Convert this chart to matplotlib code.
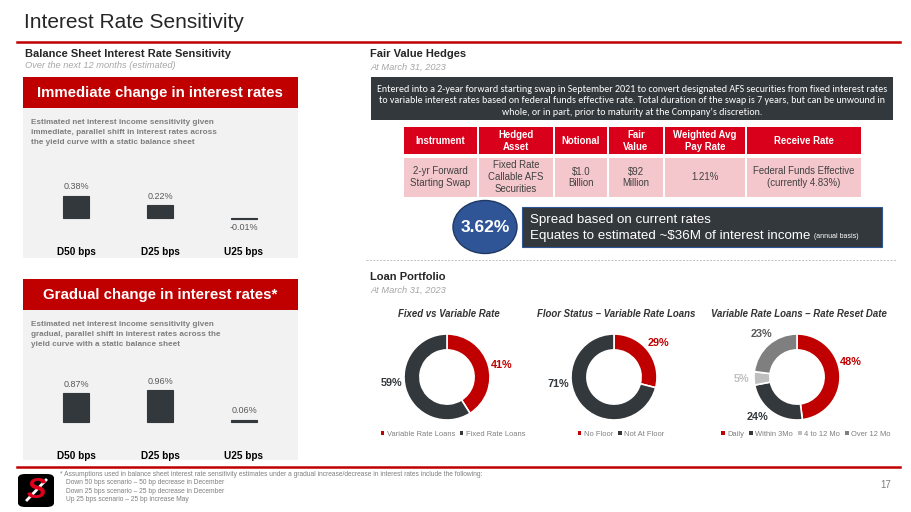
import numpy as np
import matplotlib
matplotlib.use("Agg")
import matplotlib.pyplot as plt
from matplotlib.patches import Rectangle, Ellipse, FancyBboxPatch, Patch
from matplotlib.lines import Line2D

# ---- data ----
scenarios = ["D50 bps", "D25 bps", "U25 bps"]
immediate_nii = [0.38, 0.22, -0.01]
gradual_nii = [0.87, 0.96, 0.06]

table_header = ["Instrument", "Hedged\nAsset", "Notional", "Fair\nValue",
                "Weighted Avg\nPay Rate", "Receive Rate"]
table_row = ["2-yr Forward\nStarting Swap", "Fixed Rate\nCallable AFS\nSecurities",
             "\\$1.0\nBillion", "\\$92\nMillion", "1.21%",
             "Federal Funds Effective\n(currently 4.83%)"]

fixed_var_labels = ["Variable Rate Loans", "Fixed Rate Loans"]
fixed_var_pct = [41, 59]
floor_labels = ["No Floor", "Not At Floor"]
floor_pct = [29, 71]
reset_labels = ["Daily", "Within 3Mo", "4 to 12 Mo", "Over 12 Mo"]
reset_pct = [48, 24, 5, 23]

# ---- style ----
RED = "#C00000"
HDR_RED = "#D9001B"
PINK = "#F4C7CC"
DARK = "#33383C"
PANEL = "#F2F2F2"
GRAY = "#7F7F7F"
LGRAY = "#BFBFBF"
ARIAL = ["Liberation Sans", "DejaVu Sans"]
NARROW = ["Liberation Sans Narrow", "Liberation Sans", "DejaVu Sans"]
CALIBRI = ["Carlito", "Lato", "DejaVu Sans"]
plt.rcParams["font.family"] = ARIAL

W, H = 911, 512
fig = plt.figure(figsize=(W / 100, H / 100), dpi=100)
fig.patch.set_facecolor("white")


def fx(x):
    return x / W


def fy(y):
    return 1 - y / H


def box(x0, y0, x1, y1, color, **kw):
    fig.add_artist(Rectangle((fx(x0), fy(y1)), (x1 - x0) / W, (y1 - y0) / H,
                             transform=fig.transFigure, facecolor=color,
                             edgecolor=kw.pop("edgecolor", "none"), **kw))


def txt(x, y, s, **kw):
    kw.setdefault("va", "center")
    return fig.text(fx(x), fy(y), s, **kw)


def hline(x0, x1, y, **kw):
    fig.add_artist(Line2D([fx(x0), fx(x1)], [fy(y), fy(y)],
                          transform=fig.transFigure, **kw))


# ---- header / footer ----
txt(24, 23, "Interest Rate Sensitivity", fontsize=15, color="#262626", family=NARROW)
hline(17, 900, 42, color=RED, linewidth=1.8)
hline(17, 900, 467, color=RED, linewidth=1.8)

fig.add_artist(FancyBboxPatch((fx(18), fy(507)), 36 / W, 33 / H,
                              boxstyle="round,pad=0,rounding_size=0.008",
                              transform=fig.transFigure, facecolor="black",
                              edgecolor="none"))
txt(36, 490, "S", fontsize=21, fontweight="bold", style="italic", color="#E0001B",
    ha="center")
fig.add_artist(Line2D([fx(27), fx(46)], [fy(500), fy(480)], transform=fig.transFigure,
                      color="white", linewidth=2))

txt(60, 475, "* Assumptions used in balance sheet interest rate sensitivity estimates under a "
    "gradual increase/decrease in interest rates include the following:",
    fontsize=4.8, color=GRAY, family=NARROW)
foot_lines = ["Down 50 bps scenario \u2013 50 bp decrease in December",
              "Down 25 bps scenario \u2013 25 bp decrease in December",
              "Up 25 bps scenario \u2013 25 bp increase May"]
for k, line in enumerate(foot_lines):
    txt(66, 483 + 8.3 * k, line, fontsize=4.8, color=GRAY, family=NARROW)
txt(886, 485, "17", fontsize=7, color=GRAY, family=NARROW, ha="center")

# ---- left column ----
txt(25, 54, "Balance Sheet Interest Rate Sensitivity", fontsize=8, fontweight="bold",
    color="#262626")
txt(25, 66, "Over the next 12 months (estimated)", fontsize=6.7, style="italic",
    color="#A6A6A6")


def sensitivity_panel(top, title, desc, values, base, ppu):
    box(23, top, 298, top + 31, RED)
    txt(160, top + 16, title, fontsize=10.8, fontweight="bold", color="white",
        ha="center")
    box(23, top + 31, 298, top + 31 + 150, PANEL)
    txt(31, top + 42, desc, fontsize=5.85, fontweight="bold", color=GRAY, va="top",
        linespacing=1.55)
    ax = fig.add_axes([fx(34), fy(base + 22), 252 / W, 70 / H])
    ax.set_zorder(5)
    ax.set_xlim(-0.5, 2.5)
    ax.set_ylim(-22 / ppu, 48 / ppu)
    x = np.arange(len(values))
    ax.bar(x, values, width=0.31, color=DARK, edgecolor=DARK, linewidth=0.8)
    for i, v in enumerate(values):
        off = 6.5 if v >= 0 else -6.5
        ax.annotate(f"{v:.2f}%", (i, max(v, 0) if v >= 0 else v), xytext=(0, off),
                    textcoords="offset points", ha="center", va="center",
                    fontsize=6.5, color="#595959")
    ax.set_xticks(x)
    ax.set_xticklabels(scenarios, fontsize=7.2, fontweight="bold", color="black")
    ax.tick_params(length=0, pad=5)
    ax.set_yticks([])
    for s in ax.spines.values():
        s.set_visible(False)
    ax.patch.set_alpha(0)


sensitivity_panel(77, "Immediate change in interest rates",
                  "Estimated net interest income sensitivity given\n"
                  "immediate, parallel shift in interest rates across\n"
                  "the yield curve with a static balance sheet",
                  immediate_nii, 218, 58)
sensitivity_panel(279, "Gradual change in interest rates*",
                  "Estimated net interest income sensitivity given\n"
                  "gradual, parallel shift in interest rates across the\n"
                  "yield curve with a static balance sheet",
                  gradual_nii, 422, 33)

# ---- right column: fair value hedges ----
txt(370, 54, "Fair Value Hedges", fontsize=8, fontweight="bold", color="#262626")
txt(370, 67, "At March 31, 2023", fontsize=6.7, style="italic", color="#A6A6A6")

box(371, 77, 893, 120, DARK)
swap_text = ("Entered into a 2-year forward starting swap in September 2021 to convert "
             "designated AFS securities from fixed interest rates\n"
             "to variable interest rates based on federal funds effective rate. Total "
             "duration of the swap is 7 years, but can be unwound in\n"
             "whole, or in part, prior to maturity at the Company\u2019s discretion.")
txt(632, 101, swap_text, fontsize=7.2, color="white", ha="center", family=CALIBRI,
    linespacing=1.3, multialignment="center")

col_edges = [403, 478, 554, 608, 664, 746, 862]
for j in range(len(table_header)):
    x0, x1 = col_edges[j] + 1, col_edges[j + 1] - 1
    box(x0, 127, x1, 154, HDR_RED)
    box(x0, 158, x1, 197, PINK)
    cx = (x0 + x1) / 2
    txt(cx, 141, table_header[j], fontsize=6.9, fontweight="bold", color="white",
        ha="center", multialignment="center", linespacing=1.15)
    txt(cx, 177.5, table_row[j], fontsize=6.9, color="#404040", ha="center",
        multialignment="center", linespacing=1.25)

box(522, 207, 882, 247, DARK, edgecolor="#2F5597", linewidth=0.8)
fig.add_artist(Ellipse((fx(485), fy(227)), 64 / W, 53 / H, transform=fig.transFigure,
                       facecolor="#2F5597", edgecolor="#1F3864", linewidth=1))
txt(485, 228, "3.62%", fontsize=12.5, fontweight="bold", color="white", ha="center")
txt(530, 220, "Spread based on current rates", fontsize=9.6, color="white")
t = txt(530, 236, "Equates to estimated ~\\$36M of interest income", fontsize=9.6,
        color="white")
fig.canvas.draw()
t_right = t.get_window_extent().x1
fig.text(t_right / (W) + 4 / W, fy(237), "(annual basis)", fontsize=5, color="white",
         va="center")

hline(366, 896, 260, color="#BFBFBF", linewidth=0.7, linestyle=(0, (2, 1.5)))

# ---- loan portfolio donuts ----
txt(370, 277, "Loan Portfolio", fontsize=8, fontweight="bold", color="#262626")
txt(370, 290, "At March 31, 2023", fontsize=6.7, style="italic", color="#A6A6A6")

donuts = [
    (447, 453, "Fixed vs Variable Rate", fixed_var_labels, fixed_var_pct,
     [RED, DARK], [RED, DARK], [12, 186]),
    (614, 621, "Floor Status \u2013 Variable Rate Loans", floor_labels, floor_pct,
     [RED, DARK], [RED, DARK], [37, 187]),
    (797, 806, "Variable Rate Loans \u2013 Rate Reset Date", reset_labels, reset_pct,
     [RED, DARK, LGRAY, GRAY], [RED, DARK, LGRAY, "#595959"], [16, 225, 182, 129]),
]
R = 43
CY = 377
for cx, lx, title, labels, pct, colors, lcolors, angles in donuts:
    txt(cx + 2, 314, title, fontsize=6.9, fontweight="bold", style="italic",
        color="#333333", ha="center")
    ax = fig.add_axes([fx(cx - R), fy(CY + R), 2 * R / W, 2 * R / H])
    ax.pie(pct, colors=colors, startangle=90, counterclock=False,
           wedgeprops=dict(width=0.37, edgecolor="white", linewidth=1.2))
    ax.set_xlim(-1, 1)
    ax.set_ylim(-1, 1)
    for p, a, c in zip(pct, angles, lcolors):
        rr = 1.3
        ax.text(rr * np.cos(np.radians(a)), rr * np.sin(np.radians(a)), f"{p}%",
                ha="center", va="center", fontsize=7.8, fontweight="bold", color=c)
    handles = [Patch(facecolor=c, edgecolor="none") for c in colors]
    ax.legend(handles, labels, loc="center", bbox_to_anchor=(fx(lx), fy(434)),
              bbox_transform=fig.transFigure, ncol=len(labels), fontsize=5.4,
              frameon=False, handlelength=0.45, handleheight=0.45,
              handletextpad=0.35, columnspacing=0.7, labelcolor=GRAY)

fig.savefig("out.png", dpi=100)
